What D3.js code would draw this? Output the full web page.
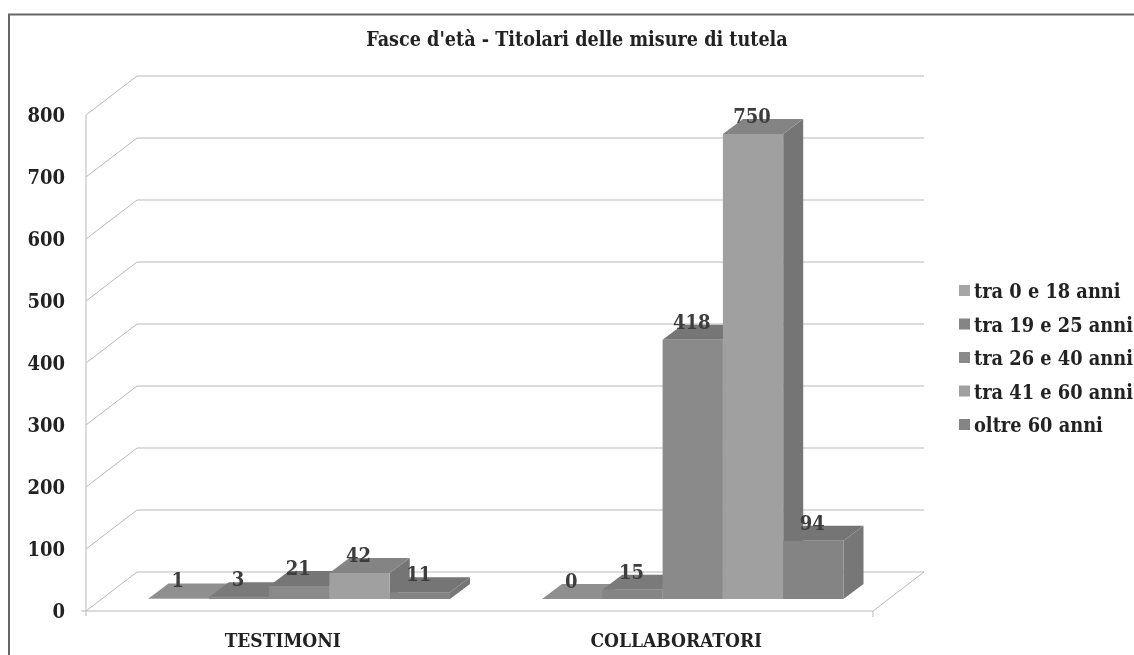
<!DOCTYPE html>
<html>
<head>
<meta charset="utf-8">
<script src="https://cdn.jsdelivr.net/npm/d3@7"></script>
<style>
	html, body { margin: 0; padding: 0; background: #fff; }
	svg { display: block; }
	text { font-family: "DejaVu Serif Condensed", "DejaVu Serif", serif; font-weight: bold; fill: #222; }
</style>
</head>
<body>
<svg id="chart" width="1134" height="655"></svg>
<script>
var title		=	"Fasce d'età - Titolari delle misure di tutela";
var categories	=	['TESTIMONI', 'COLLABORATORI'];
var seriesNames	=	['tra 0 e 18 anni', 'tra 19 e 25 anni', 'tra 26 e 40 anni', 'tra 41 e 60 anni', 'oltre 60 anni'];
var testimoni	=	[1, 3, 21, 42, 11];
var collaboratori	=	[0, 15, 418, 750, 94];
var yTicks		=	[0, 100, 200, 300, 400, 500, 600, 700, 800];
var seriesFront	=	['#a6a6a6', '#858585', '#8a8a8a', '#a0a0a0', '#848484'];
var seriesTop	=	['#8f8f8f', '#7a7a7a', '#767676', '#848484', '#757575'];
var seriesSide	=	['#7f7f7f', '#6c6c6c', '#6c6c6c', '#747474', '#777777'];

var values = [testimoni, collaboratori];

var svg = d3.select('#chart');

var defs = svg.append('defs');
defs.append('filter').attr('id', 'scan')
	.attr('x', 0).attr('y', 0).attr('width', 1).attr('height', 1)
	.attr('filterUnits', 'objectBoundingBox')
	.append('feGaussianBlur').attr('stdDeviation', 0.6);

var root = svg.append('g').attr('filter', 'url(#scan)');
root.append('rect').attr('width', 1134).attr('height', 655).attr('fill', '#fff');

// scales, front plane of the box
var x0 = d3.scaleBand().domain(categories).range([86, 873]);
var x1 = d3.scaleBand().domain(d3.range(5)).range([62.5, 364]);
var y = d3.scaleLinear().domain([0, 800]).range([611, 115]);

var backDx = 51, backDy = -39;
var barLift = -12, barDx = 20, barDy = -15;

// outer frame of the scan
root.append('path')
	.attr('d', 'M9,655V14.5H1134')
	.attr('fill', 'none').attr('stroke', '#666').attr('stroke-width', 2);

// gridlines, wall and floor
var grid = root.append('g').attr('fill', 'none').attr('stroke', '#b9b9b9').attr('stroke-width', 1);

grid.selectAll('path.tick-line')
	.data(yTicks)
	.enter().append('path')
	.attr('class', 'tick-line')
	.attr('d', function(d) {
		var py = y(d);
		return 'M86,' + py + 'L' + (86 + backDx) + ',' + (py + backDy) + 'H' + (873 + backDx);
	});

grid.append('path').attr('d', 'M86,' + y(0) + 'V' + y(800));
grid.append('path').attr('d', 'M86,' + y(0) + 'H873L' + (873 + backDx) + ',' + (y(0) + backDy));
grid.append('path').attr('d', 'M81,' + y(0) + 'H86V' + (y(0) + 5) + 'M873,' + y(0) + 'V' + (y(0) + 6));

// bars
var groups = root.selectAll('g.group')
	.data(categories)
	.enter().append('g')
	.attr('class', 'group');

groups.each(function(cat, c) {

	var group = d3.select(this);

	values[c].forEach(function(v, i) {

		var left = x0(cat) + x1(i);
		var right = left + x1.bandwidth();
		var bottom = y(0) + barLift;
		var top = y(v) + barLift;
		var bar = group.append('g');

		bar.append('path').attr('fill', seriesSide[i])
			.attr('d', 'M' + right + ',' + bottom + 'L' + (right + barDx) + ',' + (bottom + barDy) + 'V' + (top + barDy) + 'L' + right + ',' + top + 'Z');
		bar.append('path').attr('fill', seriesTop[i])
			.attr('d', 'M' + left + ',' + top + 'L' + (left + barDx) + ',' + (top + barDy) + 'H' + (right + barDx) + 'L' + right + ',' + top + 'Z');
		bar.append('rect').attr('fill', seriesFront[i])
			.attr('x', left).attr('y', top)
			.attr('width', x1.bandwidth()).attr('height', bottom - top);
	});
});

// value labels
groups.each(function(cat, c) {

	d3.select(this).selectAll('text.value')
		.data(values[c])
		.enter().append('text')
		.attr('class', 'value')
		.attr('x', function(d, i) { return x0(cat) + x1(i) + x1.bandwidth() / 2 - 1; })
		.attr('y', function(d) { return y(d) + barLift + barDy + 4; })
		.attr('text-anchor', 'middle')
		.attr('font-size', 20)
		.style('fill', '#3c3c3c')
		.text(function(d) { return d; });
});

// y axis labels
root.selectAll('text.y-label')
	.data(yTicks)
	.enter().append('text')
	.attr('class', 'y-label')
	.attr('x', 65)
	.attr('y', function(d) { return y(d) + 7; })
	.attr('text-anchor', 'end')
	.attr('font-size', 20)
	.text(function(d) { return d; });

// x axis labels
root.selectAll('text.x-label')
	.data(categories)
	.enter().append('text')
	.attr('class', 'x-label')
	.attr('x', function(d) { return x0(d) + x0.bandwidth() / 2; })
	.attr('y', 647)
	.attr('text-anchor', 'middle')
	.attr('font-size', 19)
	.text(function(d) { return d; });

root.append('text')
	.attr('x', 577).attr('y', 46)
	.attr('text-anchor', 'middle')
	.attr('font-size', 19.6)
	.text(title);

// legend
var legend = root.selectAll('g.legend')
	.data(seriesNames)
	.enter().append('g')
	.attr('class', 'legend')
	.attr('transform', function(d, i) { return 'translate(959,' + (291 + i * 33.5) + ')'; });

legend.append('rect')
	.attr('x', 0).attr('y', -6).attr('width', 11).attr('height', 11)
	.attr('fill', function(d, i) { return seriesFront[i]; });

legend.append('text')
	.attr('x', 15).attr('y', 7)
	.attr('font-size', 19.8)
	.text(function(d) { return d; });
</script>
</body>
</html>
